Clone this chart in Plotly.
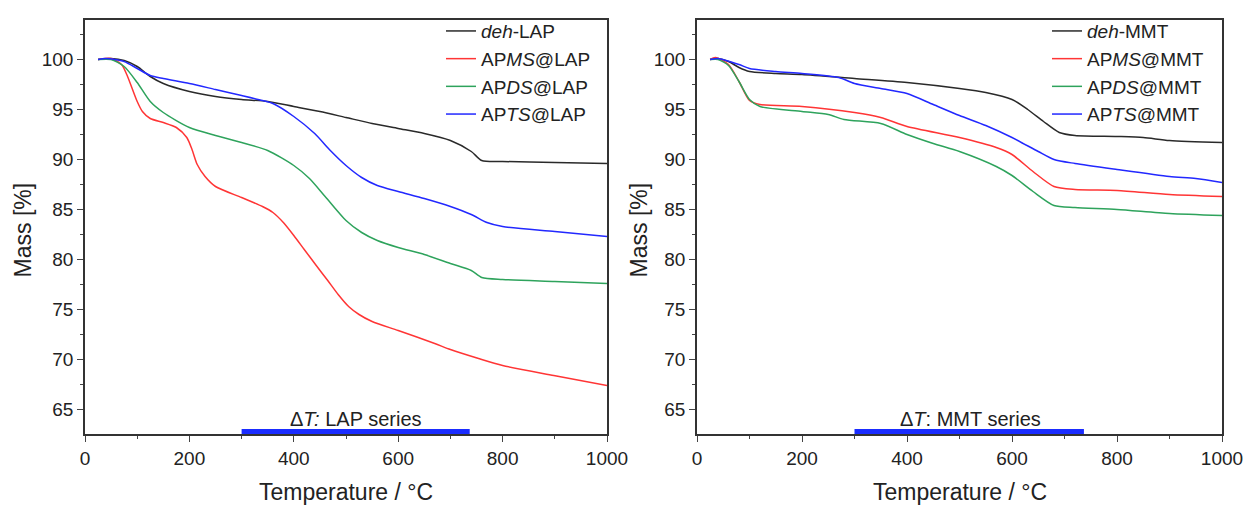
import plotly.graph_objects as go

# ---------- LAP series ----------
lap_deh_T = [25, 50, 75, 100, 125, 150, 200, 250, 300, 350, 400, 450, 500, 550, 600, 650, 700, 740, 760, 800, 900, 1000]
lap_deh_m = [100, 100.1, 99.9, 99.3, 98.3, 97.6, 96.8, 96.3, 96.0, 95.8, 95.3, 94.8, 94.2, 93.6, 93.1, 92.6, 91.9, 90.8, 89.9, 89.8, 89.7, 89.6]

lap_ms_T = [25, 50, 70, 80, 100, 110, 125, 150, 175, 195, 205, 215, 230, 250, 300, 340, 360, 380, 400, 420, 443, 465, 485, 505, 525, 550, 600, 670, 700, 754, 800, 898, 1000]
lap_ms_m = [100, 100.1, 99.5, 98.5, 95.8, 94.8, 94.1, 93.7, 93.2, 92.2, 91.0, 89.5, 88.3, 87.3, 86.2, 85.3, 84.7, 83.7, 82.4, 81.0, 79.4, 77.9, 76.5, 75.3, 74.5, 73.8, 72.9, 71.6, 71.0, 70.1, 69.4, 68.4, 67.4]

lap_ds_T = [25, 50, 75, 100, 125, 150, 200, 250, 300, 350, 400, 430, 460, 500, 530, 560, 600, 650, 700, 740, 760, 800, 900, 1000]
lap_ds_m = [100, 100, 99.3, 97.7, 95.8, 94.7, 93.2, 92.4, 91.7, 90.9, 89.4, 88.1, 86.3, 83.9, 82.7, 81.9, 81.2, 80.5, 79.6, 78.9, 78.2, 78.0, 77.8, 77.6]

lap_ts_T = [25, 40, 75, 100, 125, 150, 200, 250, 300, 340, 360, 400, 440, 470, 500, 530, 560, 600, 650, 700, 740, 770, 800, 900, 1000]
lap_ts_m = [100, 100.1, 99.8, 99.1, 98.4, 98.1, 97.6, 97.0, 96.4, 95.9, 95.6, 94.3, 92.6, 90.9, 89.4, 88.2, 87.4, 86.8, 86.1, 85.3, 84.5, 83.7, 83.3, 82.8, 82.3]

# ---------- MMT series ----------
mmt_deh_T = [25, 40, 60, 80, 100, 150, 200, 300, 400, 500, 550, 600, 630, 660, 690, 720, 800, 850, 900, 1000]
mmt_deh_m = [100, 100.1, 99.8, 99.2, 98.8, 98.6, 98.5, 98.1, 97.7, 97.1, 96.7, 96.0, 95.0, 93.8, 92.7, 92.4, 92.3, 92.2, 91.9, 91.7]

mmt_ms_T = [25, 35, 60, 80, 100, 120, 200, 300, 350, 400, 500, 570, 600, 640, 680, 720, 800, 900, 1000]
mmt_ms_m = [100, 100.2, 99.5, 97.8, 95.9, 95.5, 95.3, 94.7, 94.2, 93.3, 92.2, 91.2, 90.5, 88.8, 87.3, 87.0, 86.9, 86.5, 86.3]

mmt_ds_T = [25, 40, 60, 80, 100, 120, 200, 250, 280, 350, 400, 450, 500, 570, 600, 640, 680, 720, 800, 900, 1000]
mmt_ds_m = [100, 100, 99.4, 97.8, 96.0, 95.3, 94.8, 94.5, 94.0, 93.6, 92.5, 91.6, 90.8, 89.3, 88.4, 86.8, 85.4, 85.2, 85.0, 84.6, 84.4]

mmt_ts_T = [25, 40, 80, 100, 150, 200, 270, 300, 350, 400, 450, 500, 550, 600, 650, 680, 720, 800, 900, 950, 1000]
mmt_ts_m = [100, 100.1, 99.5, 99.1, 98.8, 98.6, 98.2, 97.6, 97.1, 96.6, 95.5, 94.4, 93.4, 92.2, 90.8, 90.0, 89.6, 89.0, 88.3, 88.1, 87.7]

# Delta-T ranges
dT_lap = [300, 737]
dT_mmt = [300, 737]
dT_level = 62.8

colors = ["#2a2a2a", "#ff3535", "#2ea35c", "#2228ff"]
lap_names = ["<i>deh</i>-LAP", "AP<i>MS</i>@LAP", "AP<i>DS</i>@LAP", "AP<i>TS</i>@LAP"]
mmt_names = ["<i>deh</i>-MMT", "AP<i>MS</i>@MMT", "AP<i>DS</i>@MMT", "AP<i>TS</i>@MMT"]

lap_data = [(lap_deh_T, lap_deh_m), (lap_ms_T, lap_ms_m), (lap_ds_T, lap_ds_m), (lap_ts_T, lap_ts_m)]
mmt_data = [(mmt_deh_T, mmt_deh_m), (mmt_ms_T, mmt_ms_m), (mmt_ds_T, mmt_ds_m), (mmt_ts_T, mmt_ts_m)]

fig = go.Figure()
for (T, m), name, c in zip(lap_data, lap_names, colors):
    fig.add_trace(go.Scatter(x=T, y=m, mode="lines", name=name, line=dict(color=c, width=1.5, shape="spline", smoothing=0.7),
                             xaxis="x", yaxis="y", legend="legend"))
for (T, m), name, c in zip(mmt_data, mmt_names, colors):
    fig.add_trace(go.Scatter(x=T, y=m, mode="lines", name=name, line=dict(color=c, width=1.5, shape="spline", smoothing=0.7),
                             xaxis="x2", yaxis="y2", legend="legend2"))

fig.add_trace(go.Scatter(x=dT_lap, y=[dT_level, dT_level], mode="lines", line=dict(color="#1a2cff", width=5),
                         showlegend=False, xaxis="x", yaxis="y"))
fig.add_trace(go.Scatter(x=dT_mmt, y=[dT_level, dT_level], mode="lines", line=dict(color="#1a2cff", width=5),
                         showlegend=False, xaxis="x2", yaxis="y2"))

font_family = "Liberation Sans, Arial, sans-serif"
xax = dict(range=[0, 1000], tickmode="linear", tick0=0, dtick=200, ticks="outside", ticklen=6, tickwidth=1.2,
           minor=dict(ticks="outside", ticklen=3, dtick=100, tickwidth=1),
           showline=True, linewidth=1.5, linecolor="#333", mirror=True, showgrid=False, zeroline=False,
           automargin=False, tickfont=dict(size=19, color="#222"))
yax = dict(range=[62.55, 103.95], tickmode="linear", tick0=65, dtick=5, ticks="outside", ticklen=6, tickwidth=1.2,
           minor=dict(ticks="outside", ticklen=3, dtick=2.5, tickwidth=1),
           showline=True, linewidth=1.5, linecolor="#333", mirror=True, showgrid=False, zeroline=False,
           automargin=False, tickfont=dict(size=19, color="#222"))

ML, MR, MT, MB = 85, 26, 15, 75
W, H = 1248, 509
PW, PH = W - ML - MR, H - MT - MB

def px_x(px):
    return (px - ML) / PW

def px_y(py):
    return (H - MB - py) / PH

title_font = dict(size=23, color="#222")

fig.update_layout(
    width=W, height=H, margin=dict(l=ML, r=MR, t=MT, b=MB),
    paper_bgcolor="white", plot_bgcolor="white",
    font=dict(family=font_family, color="#222"),
    xaxis=dict(xax, domain=[0, px_x(607)], anchor="y"),
    yaxis=dict(yax, domain=[0, 1], anchor="x"),
    xaxis2=dict(xax, domain=[px_x(697), 1], anchor="y2"),
    yaxis2=dict(yax, domain=[0, 1], anchor="x2"),
    legend=dict(x=px_x(441), xanchor="left", y=px_y(7), yanchor="top", bgcolor="rgba(0,0,0,0)",
                font=dict(size=19, color="#222"), tracegroupgap=0, itemwidth=30),
    legend2=dict(x=px_x(1047), xanchor="left", y=px_y(7), yanchor="top", bgcolor="rgba(0,0,0,0)",
                 font=dict(size=19, color="#222"), tracegroupgap=0, itemwidth=30),
    annotations=[
        dict(x=520, y=dT_level, xref="x", yref="y", text="Δ<i>T:</i> LAP series", showarrow=False,
             yanchor="bottom", yshift=0, font=dict(size=20, color="#222")),
        dict(x=520, y=dT_level, xref="x2", yref="y2", text="Δ<i>T</i>: MMT series", showarrow=False,
             yanchor="bottom", yshift=0, font=dict(size=20, color="#222")),
        dict(x=px_x(346), y=px_y(493), xref="paper", yref="paper", text="Temperature / °C", showarrow=False,
             xanchor="center", yanchor="middle", font=title_font),
        dict(x=px_x(960), y=px_y(493), xref="paper", yref="paper", text="Temperature / °C", showarrow=False,
             xanchor="center", yanchor="middle", font=title_font),
        dict(x=px_x(23), y=px_y(228), xref="paper", yref="paper", text="Mass [%]", showarrow=False, textangle=-90,
             xanchor="center", yanchor="middle", font=title_font),
        dict(x=px_x(639), y=px_y(228), xref="paper", yref="paper", text="Mass [%]", showarrow=False, textangle=-90,
             xanchor="center", yanchor="middle", font=title_font),
    ],
)

fig.write_html("out.html", config={"displayModeBar": False},
               post_script="document.body.style.margin='0';document.body.style.padding='0';document.body.style.overflow='hidden';")
